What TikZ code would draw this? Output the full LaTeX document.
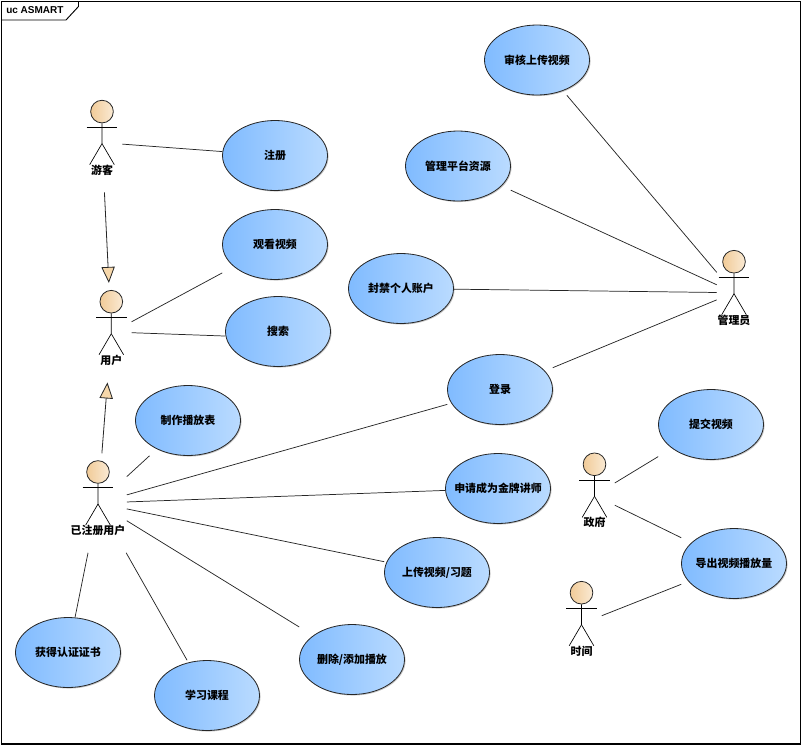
\documentclass[tikz,border=0pt]{standalone}
\usepackage{fontspec}
\setmainfont{Liberation Sans}
\newfontfamily\cjk{Noto Sans CJK SC}
\usetikzlibrary{calc}
\usetikzlibrary{shapes.geometric}
\usetikzlibrary{shadows}
\usetikzlibrary{arrows.meta}
\definecolor{usecaseL}{RGB}{128,187,255}
\definecolor{usecaseR}{RGB}{186,219,255}
\definecolor{headL}{RGB}{241,203,152}
\definecolor{headR}{RGB}{250,234,212}
\definecolor{arrowfill}{RGB}{246,215,170}
\tikzset{
  usecaseoval/.style={ellipse, draw=black!85, line width=.6pt, minimum width=78.75pt, minimum height=52.5pt, inner sep=0,
    left color=usecaseL, right color=usecaseR, general shadow={shadow xshift=.8pt, shadow yshift=-.8pt, fill=black!22}},
  usecasebox/.style={rectangle, minimum width=78.75pt, minimum height=52.5pt, inner sep=0, font=\cjk\bfseries\fontsize{8.2}{10}\selectfont},
  actorhead/.style={circle, draw=black!85, line width=.6pt, minimum size=17pt, inner sep=0,
    left color=headL, right color=headR},
  actorbody/.style={black, line width=.5pt},
  actorlabel/.style={font=\cjk\bfseries\fontsize{8.2}{10}\selectfont, inner sep=0},
  actorbox/.style={rectangle, minimum height=74.25pt, inner sep=0},
  assoc/.style={draw=black!85, line width=.55pt},
  general/.style={draw=black!85, line width=.6pt, -{Triangle[open, fill=arrowfill, length=12pt, width=10pt]}},
}
% name, x, y of the oval, text
\newcommand{\usecase}[4]{
 \node[usecaseoval] (#1oval) at (#2,#3) {};
 \node[usecasebox] (#1) at (#2,#3) {#4};
}
% name, x, y of the head, half width of the box, text
\newcommand{\actor}[5]{
 \node[actorhead] (#1head) at (#2,#3) {};
 \node[actorbox, minimum width=#4*1.5pt] (#1) at (#2,#3+31) {};
 \draw[actorbody] (#1head.south) --++(0,20.3) coordinate (#1hip) --++(-12.3,21);
 \draw[actorbody] (#1hip) --++(12.3,21);
 \draw[actorbody] (#2-15.3,#3+15.6) --++(30.6,0);
 \node[actorlabel] (#1label) at (#2,#3+58.5) {#5};
}
\begin{document}
\begin{tikzpicture} [x=.75pt, y=-.75pt]
\useasboundingbox (0,0) rectangle (802,746);
% frame
\draw[black, line width=.8pt] (1.5,1.5) rectangle (800.5,744);
\draw[black, line width=.7pt] (1.5,20) -- (66,20) -- (78.5,6.5) -- (78.5,1.5);
\node[anchor=west, font=\bfseries\fontsize{7.5}{9}\selectfont, inner sep=0] (title) at (6,10.5) {uc ASMART};
% use cases
\usecase{shenhe}{537}{60}{审核上传视频}
\usecase{guanli}{458}{166}{管理平台资源}
\usecase{zhuce}{275}{155.5}{注册}
\usecase{guankan}{275}{244.5}{观看视频}
\usecase{sousuo}{278}{331.5}{搜索}
\usecase{fengjin}{401}{288.5}{封禁个人账户}
\usecase{denglu}{500}{389.5}{登录}
\usecase{zhizuo}{188}{420.5}{制作播放表}
\usecase{shenqing}{498}{488.5}{申请成为金牌讲师}
\usecase{shangchuan}{437}{572.5}{上传视频/习题}
\usecase{tijiao}{711}{424.5}{提交视频}
\usecase{daochu}{734}{563.5}{导出视频播放量}
\usecase{shanchu}{352}{659.5}{删除/添加播放}
\usecase{xuexi}{207}{695.5}{学习课程}
\usecase{huode}{68}{652.5}{获得认证证书}
% actors
\actor{youke}{102}{111.6}{20}{游客}
\actor{yonghu}{111.3}{301.7}{20}{用户}
\actor{yizhuce}{98}{472}{28.5}{已注册用户}
\actor{admin}{734}{261.7}{17}{管理员}
\actor{zhengfu}{594.5}{464.3}{20}{政府}
\actor{shijian}{581.5}{592.7}{20}{时间}
% connectors
\foreach \a/\b in {youke/zhuce, yonghu/guankan, yizhuce/zhizuo, yizhuce/denglu,
  yizhuce/shenqing, yizhuce/shangchuan, yizhuce/shanchu, yizhuce/xuexi, yizhuce/huode,
  admin/shenhe, admin/guanli, admin/fengjin, admin/denglu,
  zhengfu/tijiao, zhengfu/daochu, shijian/daochu} {
 \draw[assoc] (\a) -- (\b);
}
\draw[assoc] (yonghu.east) -- ([yshift=-3.4pt]sousuo.west);
\draw[general] (youke) -- (yonghu);
\draw[general] (yizhuce) -- (yonghu);
\end{tikzpicture}
\end{document}
